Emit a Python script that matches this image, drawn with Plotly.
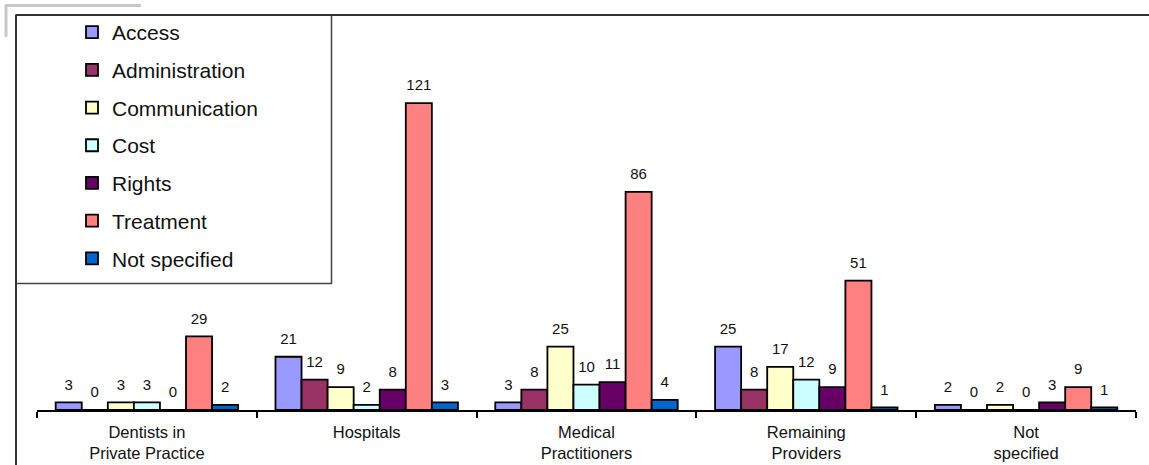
import plotly.graph_objects as go

categories = ["Dentists in<br>Private Practice", "Hospitals", "Medical<br>Practitioners",
              "Remaining<br>Providers", "Not<br>specified"]
series_names = ["Access", "Administration", "Communication", "Cost", "Rights", "Treatment", "Not specified"]
access = [3, 21, 3, 25, 2]
administration = [0, 12, 8, 8, 0]
communication = [3, 9, 25, 17, 2]
cost = [3, 2, 10, 12, 0]
rights = [0, 8, 11, 9, 3]
treatment = [29, 121, 86, 51, 9]
not_specified = [2, 3, 4, 1, 1]
series_values = [access, administration, communication, cost, rights, treatment, not_specified]
colors = ["#9999FF", "#993366", "#FFFFCC", "#CCFFFF", "#660066", "#FF8080", "#0066CC"]

W, H = 1149, 465
ML, MR, MT, MB = 37, 13, 15, 55
PW, PH = W - ML - MR, H - MT - MB

def px_x(px):
    return (px - ML) / PW

def px_y(py):
    return (H - MB - py) / PH

fig = go.Figure()
for name, vals, col in zip(series_names, series_values, colors):
    fig.add_trace(go.Bar(
        x=categories, y=vals, name=name, legendgroup=name,
        marker=dict(color=col, line=dict(color="black", width=1.8)),
        hoverinfo="skip",
    ))
for name, vals in zip(series_names, series_values):
    fig.add_trace(go.Scatter(
        x=categories, y=vals, mode="markers+text", text=[str(v) for v in vals],
        textposition="top center", textfont=dict(size=15, color="#111111", family="Liberation Sans, Arial"),
        marker=dict(size=13, opacity=0), showlegend=False, legendgroup=name,
        hoverinfo="skip", cliponaxis=False,
    ))

shapes = [
    # decorative grey corner
    dict(type="line", xref="paper", yref="paper", x0=px_x(5), x1=px_x(141), y0=px_y(5.5), y1=px_y(5.5),
         line=dict(color="#c8c8c8", width=3)),
    dict(type="line", xref="paper", yref="paper", x0=px_x(6), x1=px_x(6), y0=px_y(5), y1=px_y(37),
         line=dict(color="#c8c8c8", width=3)),
    # chart frame
    dict(type="line", xref="paper", yref="paper", x0=px_x(16), x1=px_x(1160), y0=px_y(15), y1=px_y(15),
         line=dict(color="#333333", width=2)),
    dict(type="line", xref="paper", yref="paper", x0=px_x(16), x1=px_x(16), y0=px_y(15), y1=px_y(470),
         line=dict(color="#333333", width=2)),
    # legend box
    dict(type="rect", xref="paper", yref="paper", x0=px_x(16), x1=px_x(331.5), y0=px_y(15), y1=px_y(283.5),
         line=dict(color="#444444", width=1.5), fillcolor="white", layer="below"),
]

fig.update_layout(
    width=W, height=H,
    margin=dict(l=ML, r=MR, t=MT, b=MB, pad=0, autoexpand=False),
    paper_bgcolor="white", plot_bgcolor="white",
    barmode="group", bargap=0.17, bargroupgap=0,
    scattermode="group", scattergap=0.17,
    font=dict(family="Liberation Sans, Arial", color="#111111"),
    showlegend=True,
    legend=dict(x=px_x(72), y=px_y(12), xanchor="left", yanchor="top",
                traceorder="grouped", tracegroupgap=7.4, maxheight=1,
                font=dict(size=21, color="#111111"), bgcolor="rgba(0,0,0,0)", borderwidth=0,
                itemclick=False),
    shapes=shapes,
    xaxis=dict(range=[-0.5, 4.5], showline=True, linecolor="black", linewidth=1.5,
               ticks="outside", tickson="boundaries", ticklen=6, tickcolor="black", tickwidth=1.5,
               ticklabelstandoff=6, automargin=False,
               tickfont=dict(size=16.5, color="#111111"), showgrid=False, zeroline=False, fixedrange=True),
    yaxis=dict(range=[0, PH / 2.536], visible=False, showgrid=False, zeroline=False, fixedrange=True,
               automargin=False),
)

fig.write_html("out.html")
